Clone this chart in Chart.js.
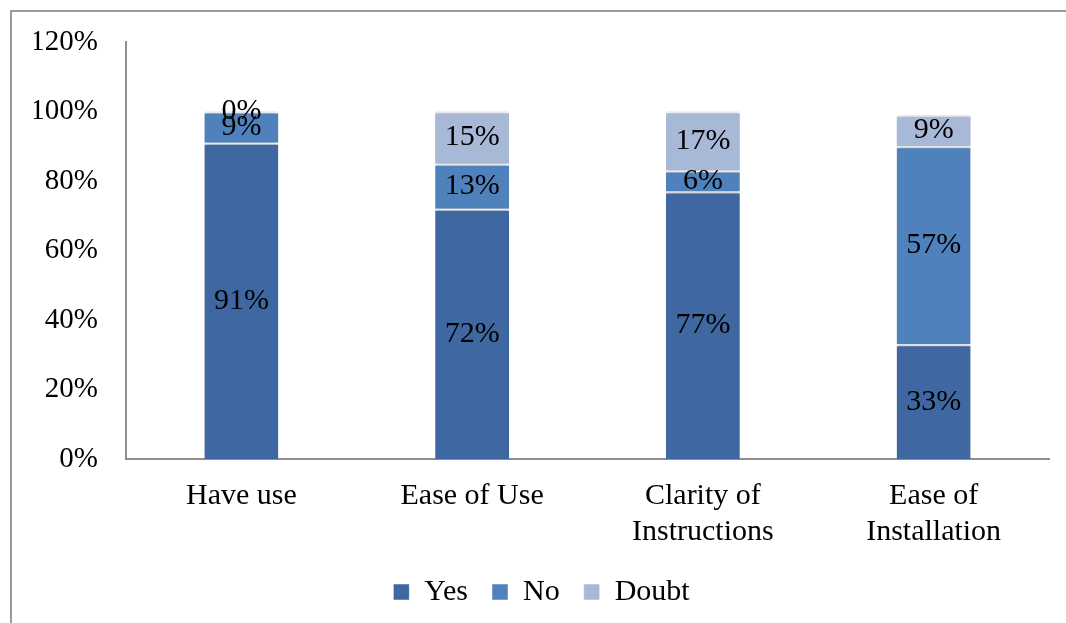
<!DOCTYPE html>
<html>
<head>
<meta charset="utf-8">
<script src="https://cdn.jsdelivr.net/npm/chart.js@4/dist/chart.umd.min.js"></script>
<style>
  html, body { margin: 0; padding: 0; background: #fff; }
  #wrap { position: relative; width: 1066px; height: 623px; overflow: hidden; }
  #frame { position: absolute; left: 10px; top: 10px; width: 1100px; height: 700px;
           border-left: 2px solid #9a9a9a; border-top: 2px solid #9a9a9a; }
  canvas { position: absolute; left: 0; top: 0; }
</style>
</head>
<body>
<div id="wrap">
  <div id="frame"></div>
  <canvas id="c" width="1066" height="623"></canvas>
</div>
<script>
const categories = [["Have use"], ["Ease of Use"], ["Clarity of", "Instructions"], ["Ease of", "Installation"]];
const yesValues = [91, 72, 77, 33];
const noValues = [9, 13, 6, 57];
const doubtValues = [0, 15, 17, 9];
const yTicks = [0, 20, 40, 60, 80, 100, 120];

const FONT = "'Liberation Serif', 'Times New Roman', serif";

// centred value labels on every stacked segment
const segmentLabels = {
  id: 'segmentLabels',
  afterDatasetsDraw(chart) {
    const ctx = chart.ctx;
    ctx.save();
    ctx.font = "30px " + FONT;
    ctx.fillStyle = '#000';
    ctx.textAlign = 'center';
    ctx.textBaseline = 'middle';
    chart.data.datasets.forEach((ds, di) => {
      const meta = chart.getDatasetMeta(di);
      meta.data.forEach((bar, i) => {
        const v = ds.data[i];
        const y = (bar.y + bar.base) / 2;
        ctx.fillText(v + '%', bar.x, y);
      });
    });
    ctx.restore();
  }
};

// soft shadow under the bars
const barShadow = {
  id: 'barShadow',
  beforeDatasetsDraw(chart) {
    const ctx = chart.ctx;
    ctx.save();
    ctx.shadowColor = 'rgba(0,0,0,0.35)';
    ctx.shadowBlur = 4;
    ctx.shadowOffsetX = 0;
    ctx.shadowOffsetY = 0;
  },
  afterDatasetsDraw(chart) {
    chart.ctx.restore();
  }
};

new Chart(document.getElementById('c'), {
  type: 'bar',
  data: {
    labels: categories,
    datasets: [
      { label: 'Yes', data: yesValues, backgroundColor: '#3F67A1' },
      { label: 'No', data: noValues, backgroundColor: '#4F81BD' },
      { label: 'Doubt', data: doubtValues, backgroundColor: '#A8B9D8' }
    ].map(d => Object.assign(d, {
      borderColor: '#ffffff',
      borderWidth: { top: 2, bottom: 0, left: 0, right: 0 },
      borderSkipped: false,
      categoryPercentage: 1,
      barPercentage: 0.32
    }))
  },
  options: {
    responsive: false,
    animation: false,
    layout: { padding: { left: 34, right: 17, top: 42, bottom: 6 } },
    plugins: {
      tooltip: { enabled: false },
      legend: {
        position: 'bottom',
        labels: {
          font: { family: FONT, size: 30 },
          color: '#000',
          boxWidth: 16,
          boxHeight: 16,
          padding: 24
        }
      }
    },
    scales: {
      x: {
        stacked: true,
        grid: { display: false, drawTicks: false },
        border: { display: true, color: '#8f8f8f', width: 2 },
        ticks: { font: { family: FONT, size: 30, lineHeight: 1.2 }, color: '#000', padding: 19, maxRotation: 0 },
        afterFit(scale) { scale.height = 94; }
      },
      y: {
        stacked: true,
        min: 0,
        max: 120,
        afterBuildTicks(scale) { scale.ticks = yTicks.map(v => ({ value: v })); },
        grid: { display: false, drawTicks: true, tickLength: 20, tickColor: 'rgba(0,0,0,0)' },
        border: { display: true, color: '#8f8f8f', width: 2 },
        ticks: {
          font: { family: FONT, size: 29 },
          color: '#000',
          padding: 8,
          callback: v => v + '%'
        },
        afterFit(scale) { scale.width = 92; }
      }
    }
  },
  plugins: [barShadow, segmentLabels]
});
</script>
</body>
</html>
